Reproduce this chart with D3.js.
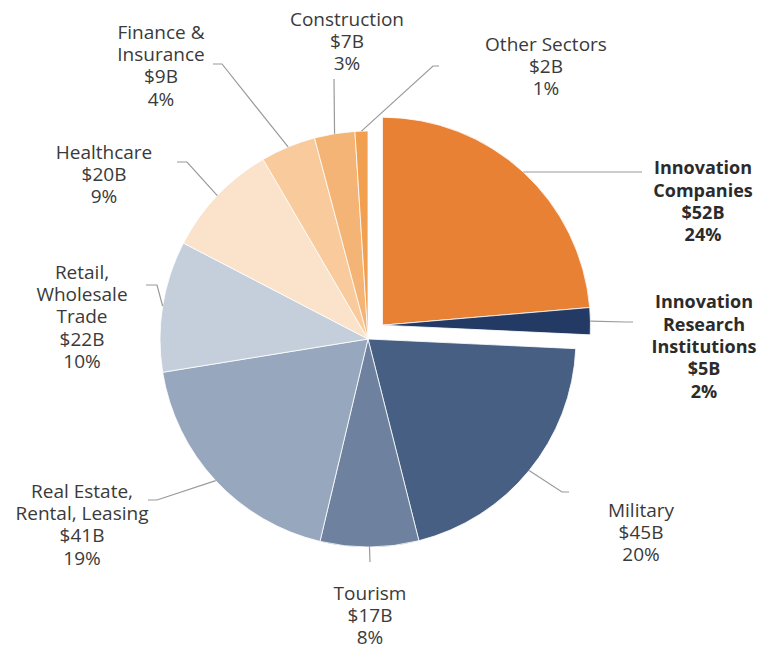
<!DOCTYPE html>
<html>
<head>
<meta charset="utf-8">
<script src="https://cdn.jsdelivr.net/npm/d3@7"></script>
<style>
  body { margin: 0; background: #fff; }
  .chart text { font-family: "Open Sans", "Noto Sans", sans-serif; fill: #333; }
</style>
</head>
<body>
<div class="chart"></div>
<script>
// Economic impact by sector, pie with the two innovation slices pulled out

var sectors = [
  ["Innovation", "Companies"],
  ["Innovation", "Research", "Institutions"],
  ["Military"],
  ["Tourism"],
  ["Real Estate,", "Rental, Leasing"],
  ["Retail,", "Wholesale", "Trade"],
  ["Healthcare"],
  ["Finance &", "Insurance"],
  ["Construction"],
  ["Other Sectors"]
];
// $B (labels show them rounded)
var values = [52.0, 4.6, 44.7, 16.8, 41.2, 22.4, 19.7, 9.4, 6.9, 2.2];
var innovation = [0, 1];                              // exploded + bold

var colors = ["#E98135", "#223A64", "#465F82", "#6E829F", "#97A7BD",
              "#C5CFDB", "#FBE2CA", "#F8CA9C", "#F4B475", "#F0A04F"];

// label placement: text centre x, first line y, leader bend points
var labelLayout = [
  {x: 703, y: 168, pts: [[642, 172]]},
  {x: 704, y: 302, pts: [[626, 322], [633, 322]]},
  {x: 641, y: 510, pts: [[562, 492], [569, 492]]},
  {x: 370, y: 593, pts: [[370, 562]]},
  {x: 82,  y: 491, pts: [[157, 500], [148, 500]]},
  {x: 82,  y: 272, pts: [[157, 285], [146, 285]]},
  {x: 104, y: 152, pts: [[187, 162], [177, 162]]},
  {x: 161, y: 32,  pts: [[222, 64], [213, 64]]},
  {x: 347, y: 19,  pts: [[334, 79]]},
  {x: 546, y: 44,  pts: [[433, 66], [439, 66]]}
];

var width = 775, height = 648;
var cx = 368, cy = 339, radius = 208, explode = 20, lineH = 22.3;

var svg = d3.select(".chart").append("svg")
    .attr("width", width)
    .attr("height", height);

var total = d3.sum(values);
var pie = d3.pie().sort(null).value(function(d) { return d; });
var arcs = pie(values);
var arc = d3.arc().innerRadius(0).outerRadius(radius);

// offset of the pulled-out group
var grpStart = d3.min(innovation, function(i) { return arcs[i].startAngle; });
var grpEnd   = d3.max(innovation, function(i) { return arcs[i].endAngle; });
var grpMid   = (grpStart + grpEnd) / 2;
var offX = explode * Math.sin(grpMid), offY = -explode * Math.cos(grpMid);

function isInno(i) { return innovation.indexOf(i) >= 0; }

var g = svg.append("g").attr("transform", "translate(" + cx + "," + cy + ")");

g.selectAll(".slice")
    .data(arcs)
    .enter()
    .append("path")
    .attr("class", "slice")
    .attr("d", arc)
    .attr("transform", function(d, i) {
        return isInno(i) ? "translate(" + offX + "," + offY + ")" : null;
    })
    .attr("fill", function(d, i) { return colors[i]; })
    .attr("stroke", "#fff")
    .attr("stroke-width", 0.8);

// leader lines
arcs.forEach(function(d, i) {
    var mid = (d.startAngle + d.endAngle) / 2;
    var sx = cx + radius * Math.sin(mid) + (isInno(i) ? offX : 0);
    var sy = cy - radius * Math.cos(mid) + (isInno(i) ? offY : 0);
    var pts = [[sx, sy]].concat(labelLayout[i].pts);
    svg.append("path")
        .attr("d", d3.line()(pts))
        .attr("fill", "none")
        .attr("stroke", "#9a9a9a")
        .attr("stroke-width", 1.2);
});

// labels
arcs.forEach(function(d, i) {
    var lines = sectors[i].concat(["$" + Math.round(values[i]) + "B",
                                   Math.round(values[i] / total * 100) + "%"]);
    var t = svg.append("text")
        .attr("text-anchor", "middle")
        .attr("font-size", isInno(i) ? 18 : 19)
        .attr("font-weight", isInno(i) ? 700 : 400)
        .style("fill", isInno(i) ? "#2b2b2b" : "#3a3a3a");
    lines.forEach(function(s, k) {
        t.append("tspan")
            .attr("x", labelLayout[i].x)
            .attr("y", labelLayout[i].y + k * lineH)
            .attr("dy", "0.35em")
            .text(s);
    });
});
</script>
</body>
</html>
